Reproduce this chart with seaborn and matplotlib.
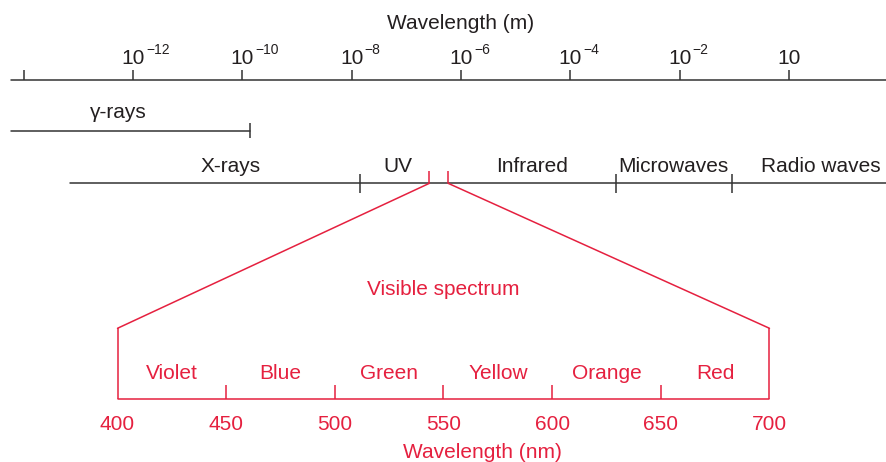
import numpy as np
import pandas as pd
import matplotlib
matplotlib.use("Agg")
import matplotlib.pyplot as plt
import seaborn as sns
from matplotlib.patches import ConnectionPatch

# ---------------- data ----------------
top_tick_exp = [-14, -12, -10, -8, -6, -4, -2, 0]
top_tick_base = ["", "10", "10", "10", "10", "10", "10", "10"]
top_tick_sup = ["", "\u221212", "\u221210", "\u22128", "\u22126", "\u22124", "\u22122", ""]
axis_range_m = [5.8e-15, 1e2]
gamma_range_m = [5.8e-15, 1.36e-10]
gamma_label = "\u03b3-rays"
gamma_label_m = 5.3e-13
band_line_range_m = [7.1e-14, 1e2]
band_bounds_m = [1.39e-8, 6.93e-4, 9.16e-2]
visible_bounds_m = [2.64e-7, 5.81e-7]
band_names = ["X-rays", "UV", "Infrared", "Microwaves", "Radio waves"]
band_label_m = [6.1e-11, 7.1e-8, 1.98e-5, 7.6e-3, 3.75]
color_names = ["Violet", "Blue", "Green", "Yellow", "Orange", "Red"]
color_edges_nm = [400, 450, 500, 550, 600, 650, 700]
nm_ticks = [400, 450, 500, 550, 600, 650, 700]
title_top = "Wavelength (m)"
title_top_m = 1e-6
title_bottom = "Wavelength (nm)"
title_bottom_nm = 568
visible_label = "Visible spectrum"
visible_label_nm = 550

# ---------------- style ----------------
sns.set_theme(style="white")
plt.rcParams["font.family"] = ["Liberation Sans", "DejaVu Sans"]
BLACK = "#231f20"
LINE = "#333333"
RED = "#e5203f"
FS = 15
LW = 1.1

W, H = 887, 462
fig = plt.figure(figsize=(W / 100, H / 100), dpi=100)
ax_top = fig.add_axes([0, 0, 1, 1])
ax_bot = fig.add_axes([0, 0, 1, 1])
for ax in (ax_top, ax_bot):
    ax.set_ylim(H, 0)
    ax.set_axis_off()
    ax.patch.set_alpha(0)
ax_top.set_xscale("log")
ax_top.set_xlim(10 ** -14.433, 10 ** 1.792)
ax_bot.set_xlim(345.93, 754.07)

# layout rows (vertical positions in figure pixel units)
Y_TITLE, Y_TICKLAB, Y_SUP, Y_AXIS, Y_AXTICK = 29, 63.5, 54.5, 80.3, 70
Y_GLAB, Y_GAMMA = 118.5, 130.7
Y_BLAB, Y_BAND = 171.5, 183.3
Y_VLAB, Y_CORNER = 295, 328.3
Y_CLAB, Y_NMTICK, Y_NM, Y_NMLAB, Y_NMTITLE = 379, 385, 399, 430, 457.5

def hline(ax, xs, y, color):
    df = pd.DataFrame({"x": xs, "y": [y] * len(xs)})
    sns.lineplot(data=df, x="x", y="y", ax=ax, color=color, lw=LW,
                 estimator=None, sort=False, legend=False)

# ---- top axis ----
hline(ax_top, axis_range_m, Y_AXIS, LINE)
ax_top.vlines([10.0 ** e for e in top_tick_exp], Y_AXTICK, Y_AXIS, color=LINE, lw=LW)
for e, b, s in zip(top_tick_exp, top_tick_base, top_tick_sup):
    x = 10.0 ** e
    if b:
        ax_top.text(x, Y_TICKLAB, b, ha="center", va="baseline", fontsize=FS, color=BLACK)
    if s:
        ax_top.annotate(s, xy=(x, Y_SUP), xytext=(9.3, 0), textcoords="offset points",
                        ha="left", va="baseline", fontsize=10, color=BLACK)
ax_top.text(title_top_m, Y_TITLE, title_top, ha="center", va="baseline", fontsize=FS, color=BLACK)

# ---- gamma rays ----
hline(ax_top, gamma_range_m, Y_GAMMA, LINE)
ax_top.vlines([gamma_range_m[1]], Y_GAMMA - 7.7, Y_GAMMA + 7.3, color=LINE, lw=LW)
ax_top.text(gamma_label_m, Y_GLAB, gamma_label, ha="center", va="baseline", fontsize=FS, color=BLACK)

# ---- band bar ----
hline(ax_top, band_line_range_m, Y_BAND, LINE)
ax_top.vlines(band_bounds_m, Y_BAND - 9.3, Y_BAND + 9.4, color=LINE, lw=LW)
ax_top.vlines(visible_bounds_m, Y_BAND - 12.3, Y_BAND, color=RED, lw=LW)
for name, xm in zip(band_names, band_label_m):
    ax_top.text(xm, Y_BLAB, name, ha="center", va="baseline", fontsize=FS, color=BLACK)

# ---- visible spectrum ----
hline(ax_bot, [color_edges_nm[0], color_edges_nm[-1]], Y_NM, RED)
ax_bot.vlines(color_edges_nm[1:-1], Y_NMTICK, Y_NM, color=RED, lw=LW)
ax_bot.vlines([color_edges_nm[0], color_edges_nm[-1]], Y_CORNER, Y_NM, color=RED, lw=LW)
for i, name in enumerate(color_names):
    mid = (color_edges_nm[i] + color_edges_nm[i + 1]) / 2
    ax_bot.text(mid, Y_CLAB, name, ha="center", va="baseline", fontsize=FS, color=RED)
for t in nm_ticks:
    ax_bot.text(t, Y_NMLAB, str(t), ha="center", va="baseline", fontsize=FS, color=RED)
ax_bot.text(title_bottom_nm, Y_NMTITLE, title_bottom, ha="center", va="baseline", fontsize=FS, color=RED)
ax_bot.text(visible_label_nm, Y_VLAB, visible_label, ha="center", va="baseline", fontsize=FS, color=RED)

for nm, m in zip([color_edges_nm[0], color_edges_nm[-1]], visible_bounds_m):
    con = ConnectionPatch(xyA=(nm, Y_CORNER), coordsA=ax_bot.transData,
                          xyB=(m, Y_BAND), coordsB=ax_top.transData,
                          color=RED, lw=LW)
    fig.add_artist(con)

fig.savefig("out.png", dpi=100, facecolor="white")
